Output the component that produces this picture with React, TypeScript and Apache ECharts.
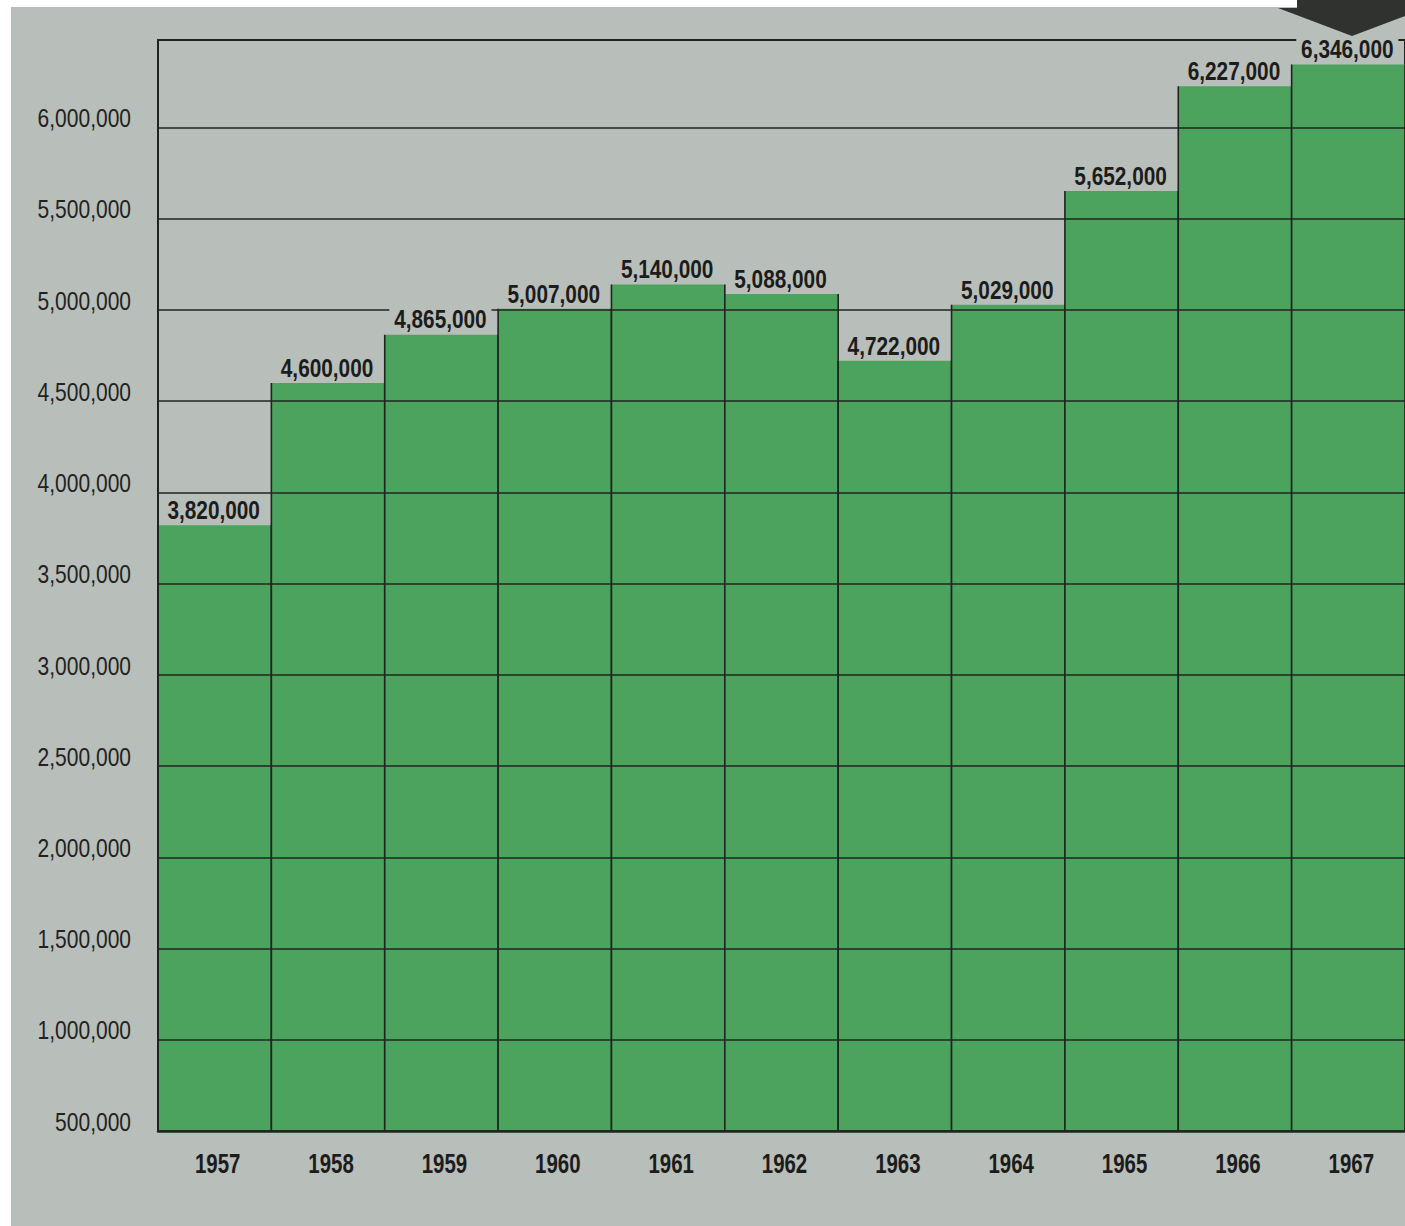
import React, { useEffect, useRef } from "react";
import * as echarts from "echarts";

const years = ["1957", "1958", "1959", "1960", "1961", "1962", "1963", "1964", "1965", "1966", "1967"];
const values = [3820000, 4600000, 4865000, 5007000, 5140000, 5088000, 4722000, 5029000, 5652000, 6227000, 6346000];
const yTicks = [500000, 1000000, 1500000, 2000000, 2500000, 3000000, 3500000, 4000000, 4500000, 5000000, 5500000, 6000000];
const axisMin = 500000;
const axisMax = 6480000;
const axisStep = 500000;

const GRAY = "#b8beb9";
const GREEN = "#4ba35e";
const INK = "#1f2420";
const SANS = "'Liberation Sans', Arial, sans-serif";

const fmt = (v: number) => v.toLocaleString("en-US");

export default function App() {
  const ref = useRef<HTMLDivElement>(null);
  useEffect(() => {
    if (!ref.current) return;
    const chart = echarts.init(ref.current, null, { renderer: "svg" });
    const data = values.map((v, i) => [i, v]);
    const yearData = years.map((_, i) => [i, axisMin]);
    const tickData = yTicks.map((v) => [0, v]);
    chart.setOption({
      animation: false,
      backgroundColor: GRAY,
      graphic: [
        { type: "rect", z: 100, shape: { x: 0, y: 0, width: 1405, height: 7 }, style: { fill: "#ffffff" } },
        { type: "rect", z: 100, shape: { x: 0, y: 0, width: 11, height: 1226 }, style: { fill: "#ffffff" } },
        {
          type: "polygon",
          z: 101,
          shape: { points: [[1297, 0], [1297, 8], [1278, 8], [1352, 36], [1426, 8], [1426, 0]] },
          style: { fill: "#2f322f" },
        },
      ],
      grid: {
        left: 158,
        top: 40,
        width: 1251,
        height: 1091,
        show: true,
        borderColor: INK,
        borderWidth: 2,
        backgroundColor: "transparent",
      },
      xAxis: {
        type: "category",
        data: years,
        z: 5,
        axisLine: { show: true, lineStyle: { color: INK, width: 2.5 } },
        axisTick: { show: false },
        splitLine: { show: false },
        axisLabel: { show: false },
      },
      yAxis: {
        type: "value",
        min: axisMin,
        max: axisMax,
        interval: axisStep,
        z: 5,
        axisLine: { show: true, lineStyle: { color: INK, width: 2 } },
        axisTick: { show: false },
        splitLine: { show: true, lineStyle: { color: INK, width: 1.6 } },
        axisLabel: { show: false },
      },
      series: [
        {
          type: "custom",
          z: 2,
          data,
          encode: { x: 0, y: 1 },
          renderItem: (params: any, api: any) => {
            const idx = api.value(0);
            const val = api.value(1);
            const top = api.coord([idx, val]);
            const bottom = api.coord([idx, axisMin]);
            const w = api.size([1, 0])[0];
            const x0 = top[0] - w / 2;
            const x1 = top[0] + w / 2;
            return {
              type: "group",
              children: [
                {
                  type: "rect",
                  shape: { x: x0, y: top[1], width: w, height: bottom[1] - top[1] },
                  style: { fill: GREEN },
                },
                {
                  type: "line",
                  shape: { x1: x0, y1: top[1], x2: x0, y2: bottom[1] },
                  style: { stroke: INK, lineWidth: 1.6 },
                },
                {
                  type: "line",
                  shape: { x1: x1, y1: top[1], x2: x1, y2: bottom[1] },
                  style: { stroke: INK, lineWidth: 1.6 },
                },
              ],
            };
          },
        },
        {
          type: "custom",
          z: 10,
          data,
          encode: { x: 0, y: 1 },
          renderItem: (params: any, api: any) => {
            const idx = api.value(0);
            const val = api.value(1);
            const top = api.coord([idx, val]);
            return {
              type: "text",
              x: top[0] - 1,
              y: top[1] - 2,
              scaleX: 0.8,
              style: {
                text: fmt(val),
                x: 0,
                y: 0,
                align: "center",
                verticalAlign: "bottom",
                fill: "#1c1c1c",
                fontFamily: SANS,
                fontWeight: "bold",
                fontSize: 26,
                lineHeight: 24,
                backgroundColor: GRAY,
                padding: [0, 6, 1, 6],
              },
            };
          },
        },
        {
          type: "custom",
          z: 10,
          data: yearData,
          encode: { x: 0, y: 1 },
          renderItem: (params: any, api: any) => {
            const idx = api.value(0);
            const p = api.coord([idx, api.value(1)]);
            return {
              type: "text",
              x: p[0] + 3,
              y: p[1] + 32,
              scaleX: 0.73,
              style: {
                text: years[idx],
                x: 0,
                y: 0,
                align: "center",
                verticalAlign: "middle",
                fill: "#1c1c1c",
                fontFamily: SANS,
                fontWeight: "bold",
                fontSize: 28,
              },
            };
          },
        },
        {
          type: "custom",
          z: 10,
          data: tickData,
          encode: { x: 0, y: 1 },
          renderItem: (params: any, api: any) => {
            const v = api.value(1);
            const p = api.coord([0, v]);
            return {
              type: "text",
              x: params.coordSys.x - 27,
              y: p[1] - 9,
              scaleX: 0.84,
              style: {
                text: fmt(v),
                x: 0,
                y: 0,
                align: "right",
                verticalAlign: "middle",
                fill: "#222",
                fontFamily: SANS,
                fontSize: 25,
              },
            };
          },
        },
      ],
    });
    return () => chart.dispose();
  }, []);
  return (
    <div
      ref={ref}
      style={{ position: "absolute", left: 0, top: 0, width: 1405, height: 1226 }}
    />
  );
}
